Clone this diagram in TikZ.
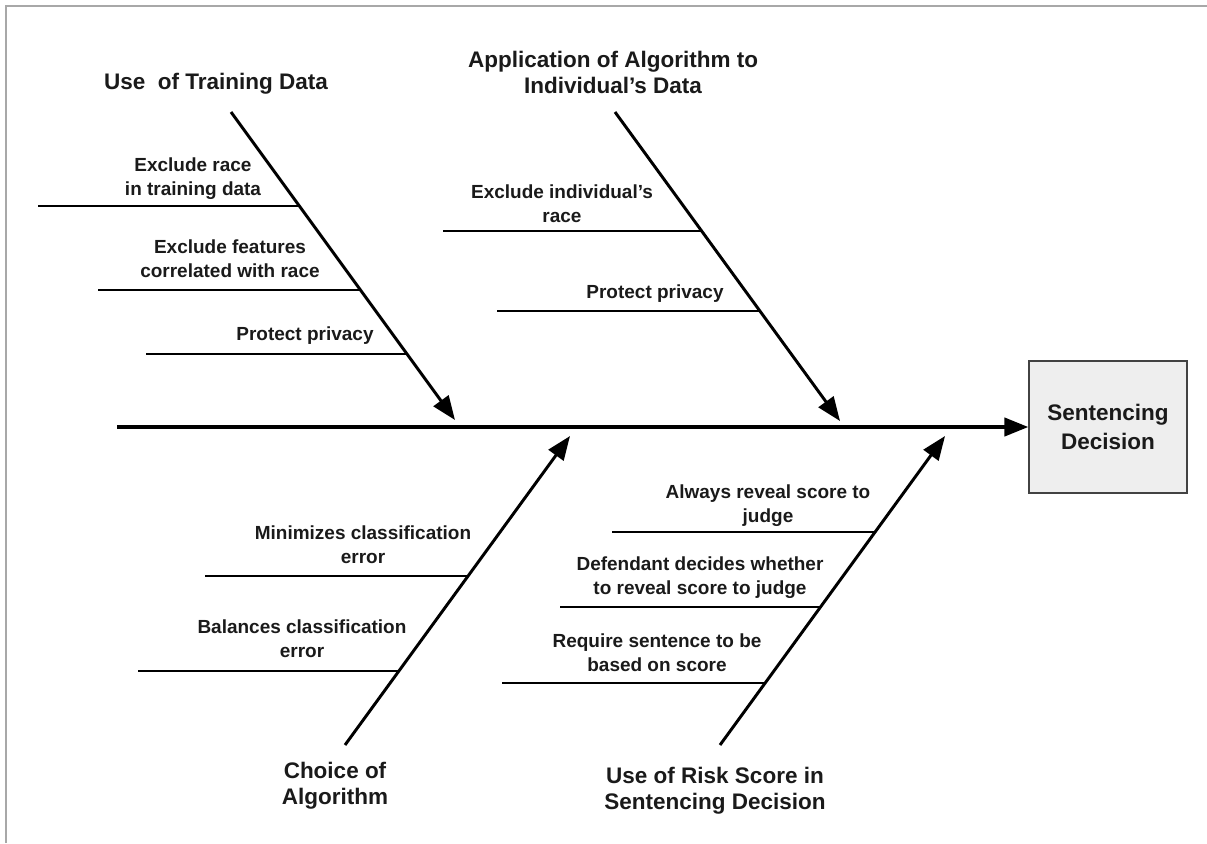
\documentclass[tikz,border=0pt]{standalone}
\usepackage{fontspec}
\setmainfont{Liberation Sans}
\usetikzlibrary{arrows.meta,positioning,calc}
\definecolor{boxfill}{HTML}{EEEEEE}
\definecolor{boxline}{HTML}{424242}
\definecolor{framegray}{HTML}{A8A8A8}
\definecolor{ink}{HTML}{1A1A1A}

\begin{document}
\begin{tikzpicture}[x=0.025cm, y=-0.025cm]
      \tikzstyle{cause} = [font=\fontsize{16}{18.5}\selectfont\bfseries,
                           align=center, text=ink]
      \tikzstyle{sub} = [font=\fontsize{13.5}{17.2}\selectfont\bfseries,
                         align=center, text=ink]
      \tikzstyle{bone} = [draw, line width=2.1pt,
                          -{Triangle[length=17pt, width=13pt]}]
      \tikzstyle{twig} = [draw, line width=0.9pt]
      \useasboundingbox (0,0) rectangle (1207,843);
      \draw[framegray, line width=1.4pt] (6,843) -- (6,6) -- (1207,6);
      % effect and spine
      \node[rectangle, draw=boxline, fill=boxfill, line width=1pt,
            minimum width=3.95cm, minimum height=3.3cm,
            font=\fontsize{16}{20}\selectfont\bfseries, align=center,
            text=ink] (decision) at (1108,427) {Sentencing\\Decision};
      \coordinate (tail) at (117,427);
      \path[bone, line width=2.4pt] (tail) -- (decision.west);
      % bones
      \coordinate (train s) at (231,112);  \coordinate (train e) at (455,420);
      \coordinate (apply s) at (615,112);  \coordinate (apply e) at (840,421);
      \coordinate (algo s) at (345,745);   \coordinate (algo e) at (570,436);
      \coordinate (score s) at (720,745);  \coordinate (score e) at (945,436);
      \path[bone] (train s) -- (train e);
      \path[bone] (apply s) -- (apply e);
      \path[bone] (algo s) -- (algo e);
      \path[bone] (score s) -- (score e);
      \node[cause] (train) at (216,84) {Use~~of Training Data};
      \node[cause] (apply) at (613,72)
        {Application of Algorithm to\\Individual’s Data};
      \node[cause] (algo) at (335,786) {Choice of\\Algorithm};
      \node[cause] (score) at (715,791)
        {Use of Risk Score in\\Sentencing Decision};
      % use of training data
      \coordinate (t1) at (38,206);   \coordinate (t1b) at (299.4,206);
      \coordinate (t2) at (98,290);   \coordinate (t2b) at (360.5,290);
      \coordinate (t3) at (146,354);  \coordinate (t3b) at (407,354);
      \path[twig] (t1) -- (t1b);
      \path[twig] (t2) -- (t2b);
      \path[twig] (t3) -- (t3b);
      \node[sub] (race) at (193,179) {Exclude race\\in training data};
      \node[sub] (feat) at (230,259) {Exclude features\\correlated with race};
      \node[sub] (priv) at (305,336) {Protect privacy};
      % application to individual
      \coordinate (a1) at (443,231);  \coordinate (a1b) at (701.7,231);
      \coordinate (a2) at (497,311);  \coordinate (a2b) at (759.9,311);
      \path[twig] (a1) -- (a1b);
      \path[twig] (a2) -- (a2b);
      \node[sub] (indrace) at (562,204) {Exclude individual’s\\race};
      \node[sub] (indpriv) at (655,294) {Protect privacy};
      % choice of algorithm
      \coordinate (c1) at (205,576);  \coordinate (c1b) at (468.1,576);
      \coordinate (c2) at (138,671);  \coordinate (c2b) at (398.9,671);
      \path[twig] (c1) -- (c1b);
      \path[twig] (c2) -- (c2b);
      \node[sub] (minerr) at (363,545) {Minimizes classification\\error};
      \node[sub] (balerr) at (302,639) {Balances classification\\error};
      % risk score use
      \coordinate (s1) at (612,532);  \coordinate (s1b) at (875.1,532);
      \coordinate (s2) at (560,607);  \coordinate (s2b) at (820.5,607);
      \coordinate (s3) at (502,683);  \coordinate (s3b) at (765.1,683);
      \path[twig] (s1) -- (s1b);
      \path[twig] (s2) -- (s2b);
      \path[twig] (s3) -- (s3b);
      \node[sub] (reveal) at (768,506) {Always reveal score to\\judge};
      \node[sub] (defend) at (700,578)
        {Defendant decides whether\\to reveal score to judge};
      \node[sub] (require) at (657,653) {Require sentence to be\\based on score};
\end{tikzpicture}
\end{document}
